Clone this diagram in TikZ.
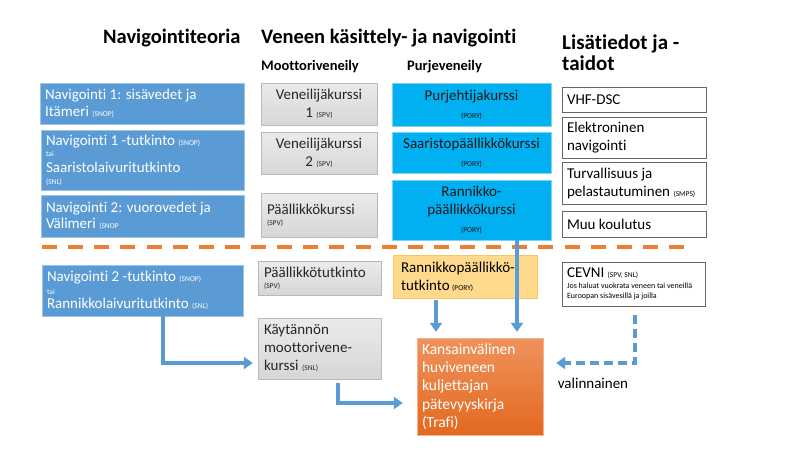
\documentclass[tikz,border=0pt]{standalone}
\usepackage{fontspec}
\setmainfont{Carlito}[Ligatures=NoCommon]
\usetikzlibrary{arrows.meta}
\definecolor{navblue}{HTML}{5B9BD5}
\definecolor{navedge}{HTML}{9DC3E6}
\definecolor{sailcyan}{HTML}{00B0F0}
\definecolor{sailedge}{HTML}{7FD3F5}
\definecolor{yellowfill}{HTML}{FFD98C}
\definecolor{yellowedge}{HTML}{F7C766}
\definecolor{orangetop}{HTML}{F0925C}
\definecolor{orangebot}{HTML}{E2691F}
\definecolor{dashorange}{HTML}{ED7D31}
\definecolor{arrowblue}{HTML}{5B9BD5}
\newcommand{\tagsz}[1]{{\fontsize{7.5}{8}\selectfont #1}}
\newcommand{\tinysz}[1]{{\fontsize{8}{9}\selectfont #1}}

\begin{document}
\begin{tikzpicture}[x=1pt,y=-1pt,
    every node/.style={font=\fontsize{15}{18}\selectfont},
    head/.style={font=\fontsize{20.5}{19}\selectfont\bfseries, inner sep=0pt, anchor=base west},
    sub/.style={font=\fontsize{14.5}{17}\selectfont\bfseries, inner sep=0pt, anchor=base west},
    navbox/.style={fill=navblue, draw=navedge, text=white, align=flush left, inner xsep=5pt, inner ysep=0pt},
    motbox/.style={top color=gray!16, bottom color=gray!32, draw=gray!55, text=black!85, inner ysep=0pt},
    sailbox/.style={fill=sailcyan, draw=sailedge, text=black!90, align=flush center, inner xsep=5pt, inner ysep=0pt},
    infobox/.style={fill=white, draw=black!60, align=flush left, inner xsep=5pt, inner ysep=0pt},
    arr/.style={draw=arrowblue, line width=3.5pt, -{Triangle[width=12pt,length=9pt]}},
  ]
  \fill[white] (0,0) rectangle (800,450);
  \useasboundingbox (0,0) rectangle (800,450);

  % otsikot
  \node[head] (hteoria) at (103,43) {Navigointiteoria};
  \node[head] (hkasittely) at (261,43) {Veneen käsittely- ja navigointi};
  \node[sub] (hmoottori) at (261,70) {Moottoriveneily};
  \node[sub] (hpurje) at (407,70) {Purjeveneily};
  \node[head, align=left, font=\fontsize{21}{21}\selectfont\bfseries, anchor=north west] (hlisa) at (562,35) {Lisätiedot ja -\\taidot};

  % navigointiteoria
  \node[navbox, minimum height=41pt, text width=194pt] (nav1) at (142,103.5)
    {Navigointi 1: sisävedet ja\\[-1pt] Itämeri \tagsz{(SNOP)}};
  \node[navbox, minimum height=60pt, text width=193pt] (nav1t) at (142.5,160)
    {Navigointi 1 -tutkinto \tagsz{(SNOP)}\\[-7pt] \tagsz{tai}\\[-2pt] Saaristolaivuritutkinto\\[-6pt] \tagsz{(SNL)}};
  \node[navbox, minimum height=42pt, text width=193pt] (nav2) at (142.5,216)
    {Navigointi 2: vuorovedet ja\\[-2pt] Välimeri \tagsz{(SNOP}};
  \node[navbox, minimum height=51pt, text width=191pt] (nav2t) at (142.5,290.5)
    {Navigointi 2 -tutkinto \tagsz{(SNOP)}\\[-5pt] \tagsz{tai}\\[-4pt] Rannikkolaivuritutkinto \tagsz{(SNL)}};

  % moottoriveneily
  \node[motbox, align=flush center, inner xsep=5pt, minimum height=42pt, text width=106pt] (vk1) at (319,104)
    {Veneilijäkurssi\\ 1 \tagsz{(SPV)}};
  \node[motbox, align=flush center, inner xsep=5pt, minimum height=42pt, text width=106pt] (vk2) at (319,153)
    {Veneilijäkurssi\\ 2 \tagsz{(SPV)}};
  \node[motbox, align=flush left, inner xsep=6pt, minimum height=44pt, text width=104pt] (pk) at (319,215)
    {Päällikkökurssi\\[-7pt] \tagsz{(SPV)}};
  \node[motbox, align=flush left, inner xsep=6pt, minimum height=34pt, text width=111pt] (pt) at (319.5,278)
    {Päällikkötutkinto\\[-7pt] \tagsz{(SPV)}};
  \node[motbox, align=flush left, inner xsep=6pt, minimum height=61pt, text width=111pt] (kmk) at (319.5,348.5)
    {Käytännön\\ moottorivene-\\ kurssi \tagsz{(SNL)}};

  % purjeveneily
  \node[sailbox, minimum height=43pt, text width=149pt] (pjk) at (471.5,104.5)
    {Purjehtijakurssi\\ \tagsz{(PORY)}};
  \node[sailbox, minimum height=41pt, text width=149pt] (spk) at (471.5,152.5)
    {Saaristopäällikkökurssi\\ \tagsz{(PORY)}};
  \node[sailbox, minimum height=60pt, text width=149pt] (rpk) at (471.5,210)
    {Rannikko-\\ päällikkökurssi\\ \tagsz{(PORY)}};
  \node[fill=yellowfill, draw=yellowedge, align=flush left, inner xsep=8pt, inner ysep=0pt,
    minimum height=43pt, text width=128pt] (rpt) at (465,276.5)
    {Rannikkopäällikkö-\\ tutkinto\,\tagsz{(PORY)}};
  \node[top color=orangetop, bottom color=orangebot, draw=orangetop!70!white, text=white,
    align=flush left, inner xsep=5pt, inner ysep=0pt, minimum height=97pt, text width=116pt,
    font=\fontsize{15.5}{18.3}\selectfont] (kv) at (480,386.5)
    {Kansainvälinen\\ huviveneen\\ kuljettajan\\ pätevyyskirja\\ (Trafi)};

  % lisätiedot
  \node[infobox, minimum height=25pt, text width=134pt] (vhf) at (634,99.5) {VHF-DSC};
  \node[infobox, minimum height=41pt, text width=134pt] (ele) at (634,137.5) {Elektroninen\\ navigointi};
  \node[infobox, minimum height=42pt, text width=134pt] (tur) at (634,183)
    {Turvallisuus ja\\ pelastautuminen \tagsz{(SMPS)}};
  \node[infobox, minimum height=26pt, text width=134pt] (muu) at (634,224) {Muu koulutus};
  \node[infobox, minimum height=44pt, text width=133pt] (cevni) at (633.5,284)
    {CEVNI \tagsz{(SPV, SNL)}\\[-7pt] \tinysz{Jos haluat vuokrata veneen tai veneillä}\\[-8pt] \tinysz{Euroopan sisävesillä ja joilla}};
  \node (opt) at (593,383) {valinnainen};

  \draw[dashorange, line width=4pt, dash pattern=on 15pt off 11.125pt] (42,247) -- (693,247);

  % nuolet
  \coordinate (turnA) at (0,363);
  \coordinate (turnB) at (0,403);
  \draw[arr, shorten >=5pt] ([xshift=20.5pt]nav2t.south) |- (kmk.west |- turnA);
  \draw[arr, shorten <=4pt, shorten >=14pt] ([xshift=18.5pt]kmk.south) |- (kv.west |- turnB);
  \draw[arr, shorten <=2pt, shorten >=6pt] ([xshift=-29pt]rpt.south) -- ([xshift=-29pt]rpt.south |- kv.north);
  \draw[arr, shorten >=6pt] ([xshift=45.5pt]rpk.south) -- ([xshift=45.5pt]rpk.south |- kv.north);
  \draw[arr, dash pattern=on 9pt off 5pt, shorten <=9pt, shorten >=13pt] ([xshift=1.5pt]cevni.south) |- (kv.east |- turnA);
\end{tikzpicture}
\end{document}
